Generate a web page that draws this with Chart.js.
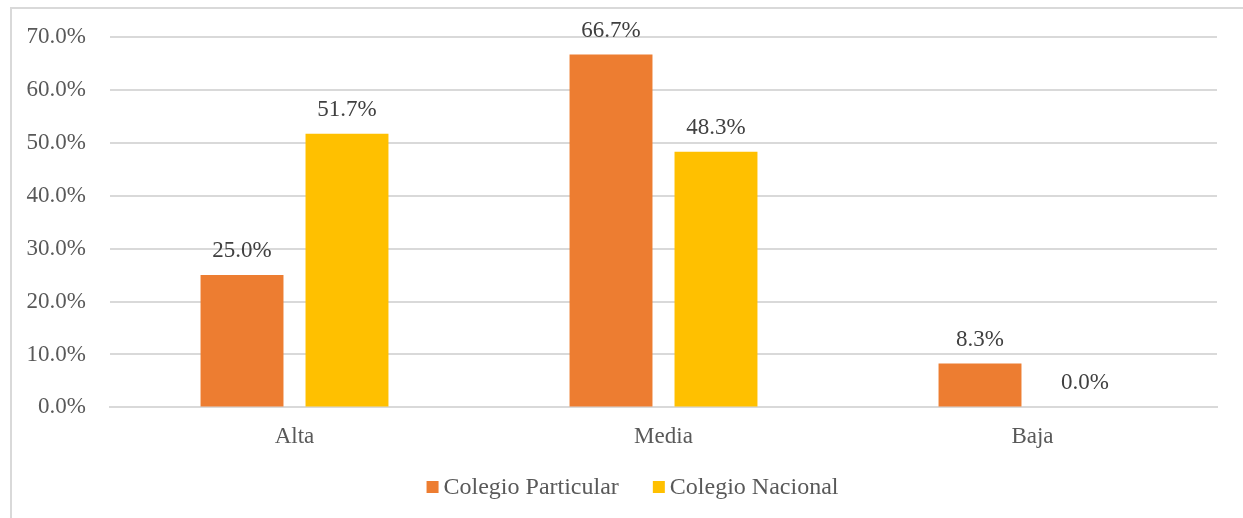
<!DOCTYPE html>
<html>
<head>
<meta charset="utf-8">
<script src="https://cdn.jsdelivr.net/npm/chart.js@4/dist/chart.umd.min.js"></script>
<style>
    body { margin: 0; background: #fff; overflow: hidden; }
    #wrap {
        position: absolute; left: 10px; top: 7px;
        width: 1240px; height: 520px;
        border-left: 2px solid #d9d9d9; border-top: 2px solid #d9d9d9;
    }
    #chart { display: block; }
</style>
</head>
<body>
<div id="wrap"><canvas id="chart" width="1231" height="511"></canvas></div>
<script>
// categorías y series
const categorias = ['Alta', 'Media', 'Baja'];
const colegioParticular = [25.0, 66.7, 8.3];
const colegioNacional = [51.7, 48.3, 0.0];
const ticksY = [0, 10, 20, 30, 40, 50, 60, 70];

const fuente = '"Liberation Serif", "Times New Roman", serif';

// etiquetas de valor encima de cada barra
const etiquetas = {
    id: 'etiquetas',
    afterDatasetsDraw(chart) {
        const ctx = chart.ctx;
        ctx.save();
        ctx.font = '23px ' + fuente;
        ctx.fillStyle = '#404040';
        ctx.textAlign = 'center';
        ctx.textBaseline = 'middle';
        chart.data.datasets.forEach((ds, i) => {
            chart.getDatasetMeta(i).data.forEach((bar, j) => {
                ctx.fillText(ds.data[j].toFixed(1) + '%', bar.x, bar.y - 24);
            });
        });
        ctx.restore();
    }
};

// leyenda dibujada a mano (cuadro pegado al texto, como en Excel)
const leyenda = {
    id: 'leyenda',
    afterDraw(chart) {
        const ctx = chart.ctx;
        const caja = 12, hueco = 5, separacion = 34;
        ctx.save();
        ctx.font = '24px ' + fuente;
        ctx.textBaseline = 'middle';
        const items = chart.data.datasets.map(ds => ({
            texto: ds.label,
            color: ds.backgroundColor,
            ancho: caja + hueco + ctx.measureText(ds.label).width
        }));
        const total = items.reduce((s, it) => s + it.ancho, 0) + separacion * (items.length - 1);
        let x = chart.width / 2 + 5 - total / 2;
        const y = 478;
        items.forEach(it => {
            ctx.fillStyle = it.color;
            ctx.fillRect(x, y - caja / 2, caja, caja);
            ctx.fillStyle = '#595959';
            ctx.fillText(it.texto, x + caja + hueco, y + 1);
            x += it.ancho + separacion;
        });
        ctx.restore();
    }
};

new Chart(document.getElementById('chart'), {
    type: 'bar',
    data: {
        labels: categorias,
        datasets: [{
            label: 'Colegio Particular',
            data: colegioParticular,
            backgroundColor: '#ED7D31'
        }, {
            label: 'Colegio Nacional',
            data: colegioNacional,
            backgroundColor: '#FFC000'
        }]
    },
    options: {
        responsive: false,
        animation: false,
        categoryPercentage: 0.569,
        barPercentage: 0.79,
        layout: { padding: { top: 28, right: 26, bottom: 61, left: 0 } },
        scales: {
            x: {
                grid: { display: false },
                border: { color: '#d9d9d9', width: 2 },
                ticks: { color: '#595959', font: { family: fuente, size: 23 }, padding: 8 }
            },
            y: {
                min: 0,
                max: 70,
                afterBuildTicks: axis => { axis.ticks = ticksY.map(v => ({ value: v })); },
                afterFit: axis => {
                    axis.width = 98;
                    axis.paddingTop = 0;
                    axis.paddingBottom = 0;
                },
                grid: { color: '#d9d9d9', lineWidth: 2, drawTicks: false },
                border: { display: false },
                ticks: {
                    color: '#595959',
                    font: { family: fuente, size: 23 },
                    padding: 24,
                    callback: v => v.toFixed(1) + '%'
                }
            }
        },
        plugins: {
            legend: { display: false },
            tooltip: { enabled: false }
        }
    },
    plugins: [etiquetas, leyenda]
});
</script>
</body>
</html>
